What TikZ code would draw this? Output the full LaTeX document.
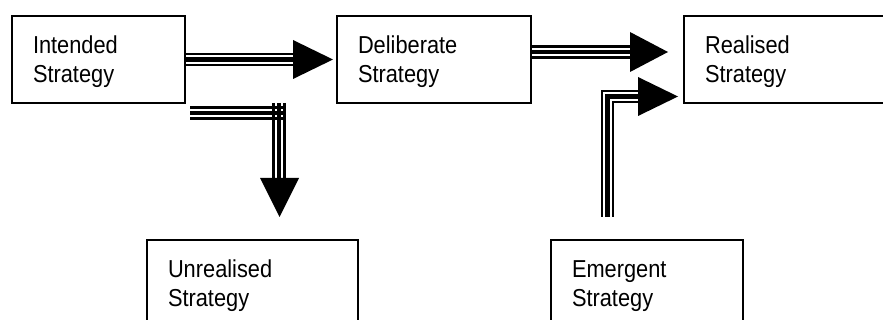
\documentclass[tikz,border=0pt]{standalone}
\usepackage{fontspec}
\setmainfont{Liberation Sans}[FakeStretch=0.89]
\usetikzlibrary{calc}
\newcommand{\firstline}{\rule{0pt}{21.1pt}}
\begin{document}
\begin{tikzpicture}[x=1pt,y=-1pt,
  box/.style={draw, line width=2pt, inner sep=0pt, align=left,
    font=\fontsize{24.5}{29}\selectfont, minimum height=87pt},
  triple/.style={line width=13.3pt, line join=miter,
    postaction={draw=white, line width=8.5pt},
    postaction={draw=black, line width=4.2pt}},
  thinl/.style={line width=2.4pt},
  midl/.style={line width=4.2pt},
  head/.style={fill=black}
]
\useasboundingbox (0,0) rectangle (883,320);
\clip (0,0) rectangle (883,320);
\fill[white] (0,0) rectangle (883,320);

% boxes
\node[box, minimum width=173pt, text width=131pt] (intended) at (98.5,59.5) {\firstline Intended\\Strategy};
\node[box, minimum width=194pt, text width=152pt] (deliberate) at (434,59.5) {\firstline Deliberate\\Strategy};
\node[box, minimum width=206pt, text width=164pt] (realised) at (787,59.5) {\firstline Realised\\Strategy};
\node[box, minimum width=211pt, text width=169pt] (unrealised) at (252.5,283.5) {\firstline Unrealised\\Strategy};
\node[box, minimum width=192pt, text width=150pt] (emergent) at (647,283.5) {\firstline Emergent\\Strategy};

% arrow 1: intended -> deliberate
\coordinate (a1) at (293,59.5);
\draw[triple] (intended.east) -- (a1);
\fill[head] (a1) ++(0,-19.5) -- ++(40,19.5) -- ++(-40,19.5) -- cycle;

% arrow 2: deliberate -> realised
\coordinate (s2) at ([yshift=7.5pt]deliberate.east);
\coordinate (a2) at (630,52);
\draw[triple] (s2) -- (a2);
\fill[head] (a2) ++(0,-20) -- ++(38,20) -- ++(-38,20) -- cycle;

% arrow 3: emergent -> realised
\coordinate (s3) at ([xshift=-39.5pt,yshift=22pt]emergent.north);
\coordinate (a3) at (638,96.5);
\draw[triple] (s3) |- (a3);
\fill[head] (a3) ++(0,-19.5) -- ++(40,19.5) -- ++(-40,19.5) -- cycle;

% arrow 4: intended -> unrealised
\coordinate (h1) at (190,113);
\coordinate (h2) at (286,113);
\coordinate (v1) at (279,103);
\coordinate (a4) at (279.5,178);
\draw[thinl] ([yshift=5.5pt]h1) -- ([yshift=5.5pt]h2);
\draw[midl] (h1) -- (h2);
\draw[thinl] ([yshift=-5.5pt]h1) -- ([yshift=-5.5pt]h2);
\draw[thinl] ([xshift=-5.5pt]v1) -- ([xshift=-5.5pt]v1 |- a4);
\draw[midl] (v1) -- (v1 |- a4);
\draw[thinl] ([xshift=5.5pt]v1) -- ([xshift=5.5pt]v1 |- a4);
\fill[head] (a4) ++(-19.5,0) -- ++(19.5,39) -- ++(19.5,-39) -- cycle;
\end{tikzpicture}
\end{document}
